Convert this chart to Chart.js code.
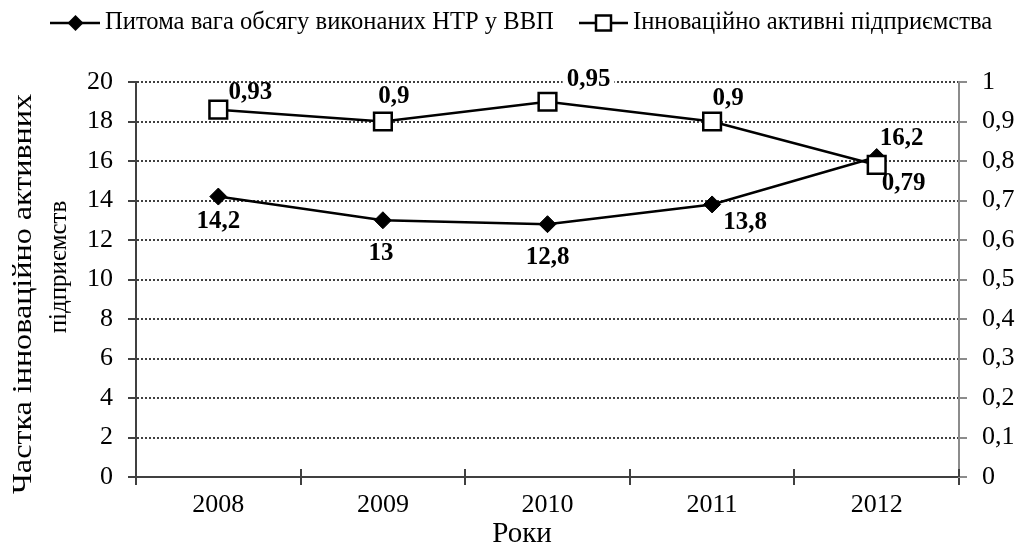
<!DOCTYPE html>
<html>
<head>
<meta charset="utf-8">
<script src="https://cdn.jsdelivr.net/npm/chart.js@4.4.0/dist/chart.umd.min.js"></script>
<style>
html,body{margin:0;padding:0;background:#fff;}
#wrap{width:1018px;height:549px;position:relative;}
</style>
</head>
<body>
<div id="wrap"><canvas id="c" width="1018" height="549"></canvas></div>
<script>
// ---- data ----
const years = ['2008', '2009', '2010', '2011', '2012'];
const ntrShare = [14.2, 13, 12.8, 13.8, 16.2];
const innovActive = [0.93, 0.9, 0.95, 0.9, 0.79];
const ntrLabels = ['14,2', '13', '12,8', '13,8', '16,2'];
const innovLabels = ['0,93', '0,9', '0,95', '0,9', '0,79'];
const seriesNames = ['Питома вага обсягу виконаних НТР у ВВП', 'Інноваційно активні підприємства'];
const leftTitle = ['Частка інноваційно активних', 'підприємств'];
const xTitle = 'Роки';

// ---- styling (label offsets relative to points) ----
const FONT = '"Liberation Serif", "Times New Roman", serif';
const labelStyle = [
  { offsets: [[0, 25], [-2, 33], [0, 33], [33, 18], [25, -19]], bg: [false, false, false, false, false] },
  { offsets: [[32, -17], [11, -25], [41, -22], [16, -23], [27, 19]], bg: [false, false, true, false, false] }
];
const seriesLabels = [ntrLabels, innovLabels];

const dataLabelPlugin = {
  id: 'dataLabels',
  afterDatasetsDraw(chart) {
    const ctx = chart.ctx;
    ctx.save();
    ctx.font = 'bold 25px ' + FONT;
    ctx.textAlign = 'center';
    ctx.textBaseline = 'middle';
    chart.data.datasets.forEach((ds, di) => {
      const meta = chart.getDatasetMeta(di);
      meta.data.forEach((pt, i) => {
        const [dx, dy] = labelStyle[di].offsets[i];
        const x = pt.x + dx, y = pt.y + dy;
        const txt = seriesLabels[di][i];
        if (labelStyle[di].bg[i]) {
          const w = ctx.measureText(txt).width;
          ctx.fillStyle = '#fff';
          ctx.fillRect(x - w / 2 - 4, y - 12, w + 8, 22);
        }
        ctx.fillStyle = '#000';
        ctx.fillText(txt, x, y);
      });
    });
    ctx.restore();
  }
};

const extrasPlugin = {
  id: 'extras',
  afterDraw(chart) {
    const ctx = chart.ctx;
    const area = chart.chartArea;
    const xs = chart.scales.x;
    ctx.save();
    // upper half of crossing x ticks
    ctx.strokeStyle = '#404040';
    ctx.lineWidth = 2;
    const n = years.length;
    for (let i = 0; i <= n; i++) {
      const px = Math.round(xs.left + i * (xs.width / n));
      ctx.beginPath();
      ctx.moveTo(px, area.bottom);
      ctx.lineTo(px, area.bottom - 8);
      ctx.stroke();
    }
    // legend
    const ly = 23;
    ctx.fillStyle = '#000';
    ctx.strokeStyle = '#000';
    ctx.lineWidth = 2.5;
    ctx.beginPath(); ctx.moveTo(50, ly); ctx.lineTo(100, ly); ctx.stroke();
    ctx.beginPath();
    ctx.moveTo(75.5, ly - 8); ctx.lineTo(83.5, ly); ctx.lineTo(75.5, ly + 8); ctx.lineTo(67.5, ly); ctx.closePath();
    ctx.fill();
    ctx.beginPath(); ctx.moveTo(579, ly); ctx.lineTo(628, ly); ctx.stroke();
    ctx.fillStyle = '#fff';
    ctx.fillRect(596, ly - 7.5, 15, 15);
    ctx.lineWidth = 2.5;
    ctx.strokeRect(596, ly - 7.5, 15, 15);
    ctx.fillStyle = '#000';
    ctx.font = '24.6px ' + FONT;
    ctx.textAlign = 'left';
    ctx.textBaseline = 'middle';
    ctx.fillText(seriesNames[0], 105, ly);
    ctx.fillText(seriesNames[1], 633, ly);
    // left axis title (two lines, rotated)
    ctx.textAlign = 'center';
    ctx.textBaseline = 'middle';
    ctx.font = '28px ' + FONT;
    const w1 = ctx.measureText(leftTitle[0]).width;
    ctx.save(); ctx.translate(24, 294); ctx.rotate(-Math.PI / 2); ctx.scale(400 / w1, 1); ctx.fillText(leftTitle[0], 0, 0); ctx.restore();
    ctx.font = '25px ' + FONT;
    ctx.save(); ctx.translate(59, 267); ctx.rotate(-Math.PI / 2); ctx.fillText(leftTitle[1], 0, 0); ctx.restore();
    // x title
    ctx.font = '29px ' + FONT;
    ctx.fillText(xTitle, 522, 534);
    ctx.restore();
  }
};

const tickFont = { family: FONT, size: 26 };

new Chart(document.getElementById('c'), {
  type: 'line',
  data: {
    labels: years,
    datasets: [
      {
        label: seriesNames[0], data: ntrShare, yAxisID: 'y',
        borderColor: '#000', borderWidth: 2.5, tension: 0, fill: false,
        pointStyle: 'rectRot', pointRadius: 8.5, pointBackgroundColor: '#000',
        pointBorderColor: '#000', pointBorderWidth: 1, order: 2
      },
      {
        label: seriesNames[1], data: innovActive, yAxisID: 'y1',
        borderColor: '#000', borderWidth: 2.5, tension: 0, fill: false,
        pointStyle: 'rect', pointRadius: 12.5, pointBackgroundColor: '#fff',
        pointBorderColor: '#000', pointBorderWidth: 2.5, order: 1
      }
    ]
  },
  options: {
    responsive: false,
    animation: false,
    layout: { padding: { top: 82, left: 0, right: 0, bottom: 0 } },
    plugins: { legend: { display: false }, tooltip: { enabled: false } },
    scales: {
      x: {
        type: 'category', offset: true,
        grid: { offset: true, drawOnChartArea: false, color: '#404040', lineWidth: 2, tickLength: 8 },
        border: { color: '#404040', width: 2 },
        ticks: { font: tickFont, color: '#000', padding: 5, maxRotation: 0 },
        afterFit(s) { s.height = 72; }
      },
      y: {
        position: 'left', min: 0, max: 20,
        ticks: { stepSize: 2, font: tickFont, color: '#000', padding: 15 },
        grid: { color: '#404040', lineWidth: 2, tickBorderDash: [], tickColor: '#404040', tickWidth: 2, tickLength: 8 },
        border: { color: '#404040', width: 2, dash: [2, 2] },
        afterFit(s) { s.width = 136; }
      },
      y1: {
        position: 'right', min: 0, max: 1,
        ticks: {
          stepSize: 0.1, font: tickFont, color: '#000', padding: 15,
          callback: (v) => (Math.abs(v) < 1e-9 ? '0' : Math.abs(v - 1) < 1e-9 ? '1' : v.toFixed(1).replace('.', ','))
        },
        grid: { drawOnChartArea: false, color: '#8c8c8c', lineWidth: 2, tickLength: 8 },
        border: { color: '#8c8c8c', width: 2 },
        afterFit(s) { s.width = 59; }
      }
    }
  },
  plugins: [dataLabelPlugin, extrasPlugin]
});
</script>
</body>
</html>
